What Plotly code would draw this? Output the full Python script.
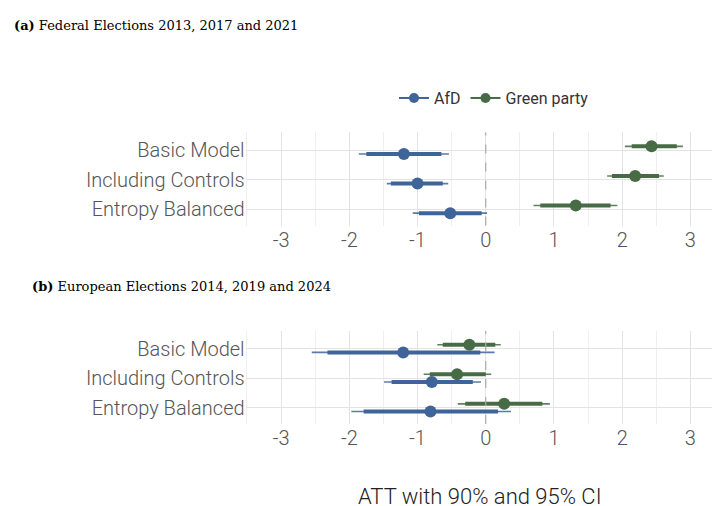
import plotly.graph_objects as go

models = ["Basic Model", "Including Controls", "Entropy Balanced"]
ypos = [3, 2, 1]

# panel (a) federal elections
fed_afd_est = [-1.20, -1.00, -0.52]
fed_afd_lo95 = [-1.86, -1.45, -1.07]
fed_afd_hi95 = [-0.54, -0.55, 0.02]
fed_afd_lo90 = [-1.75, -1.39, -0.98]
fed_afd_hi90 = [-0.65, -0.63, -0.06]
fed_grn_est = [2.43, 2.19, 1.32]
fed_grn_lo95 = [2.04, 1.78, 0.70]
fed_grn_hi95 = [2.89, 2.61, 1.93]
fed_grn_lo90 = [2.14, 1.85, 0.80]
fed_grn_hi90 = [2.80, 2.54, 1.83]

# panel (b) european elections
eu_afd_est = [-1.21, -0.79, -0.81]
eu_afd_lo95 = [-2.55, -1.49, -1.97]
eu_afd_hi95 = [0.13, -0.07, 0.37]
eu_afd_lo90 = [-2.32, -1.38, -1.79]
eu_afd_hi90 = [-0.08, -0.19, 0.18]
eu_grn_est = [-0.24, -0.42, 0.27]
eu_grn_lo95 = [-0.71, -0.91, -0.41]
eu_grn_hi95 = [0.22, 0.08, 0.94]
eu_grn_lo90 = [-0.63, -0.82, -0.30]
eu_grn_hi90 = [0.14, 0.00, 0.83]

AFD = "#3f6499"
GRN = "#476b45"
OFF = 0.13

fig = go.Figure()


def segs(lo, hi, ys):
    xs, yy = [], []
    for a, b, y in zip(lo, hi, ys):
        xs += [a, b, None]
        yy += [y, y, None]
    return xs, yy


def add_series(est, lo95, hi95, lo90, hi90, shift, color, ax):
    ys = [y + shift for y in ypos]
    x, y = segs(lo95, hi95, ys)
    fig.add_trace(go.Scatter(x=x, y=y, mode="lines", line=dict(color=color, width=1.6),
                             opacity=0.85, showlegend=False, xaxis="x" + ax, yaxis="y" + ax, hoverinfo="skip"))
    x, y = segs(lo90, hi90, ys)
    fig.add_trace(go.Scatter(x=x, y=y, mode="lines", line=dict(color=color, width=4),
                             showlegend=False, xaxis="x" + ax, yaxis="y" + ax, hoverinfo="skip"))
    fig.add_trace(go.Scatter(x=est, y=ys, mode="markers", marker=dict(color=color, size=12),
                             showlegend=False, xaxis="x" + ax, yaxis="y" + ax))


add_series(fed_afd_est, fed_afd_lo95, fed_afd_hi95, fed_afd_lo90, fed_afd_hi90, -OFF, AFD, "")
add_series(fed_grn_est, fed_grn_lo95, fed_grn_hi95, fed_grn_lo90, fed_grn_hi90, OFF, GRN, "")
add_series(eu_afd_est, eu_afd_lo95, eu_afd_hi95, eu_afd_lo90, eu_afd_hi90, -OFF, AFD, "2")
add_series(eu_grn_est, eu_grn_lo95, eu_grn_hi95, eu_grn_lo90, eu_grn_hi90, OFF, GRN, "2")

for name, color in [("AfD", AFD), ("Green party", GRN)]:
    fig.add_trace(go.Scatter(x=[None], y=[None], mode="lines+markers", name=name,
                             line=dict(color=color, width=2), marker=dict(color=color, size=10)))

tickfont = dict(size=20, color="#555555", family="Roboto", weight=300)
xcommon = dict(range=[-3.52, 3.34], tickvals=[-3, -2, -1, 0, 1, 2, 3],
               ticktext=["-3", "-2", "-1", "0", "1", "2", "3"],
               showgrid=True, gridcolor="#e3e3e3", gridwidth=1.3,
               minor=dict(dtick=0.5, showgrid=True, gridcolor="#efefef", gridwidth=0.8),
               zeroline=False, showline=False, ticks="", automargin=False,
               tickfont=tickfont, domain=[0.33, 0.98])
ycommon = dict(range=[0.45, 3.6], tickvals=ypos, ticktext=models, automargin=False,
               showgrid=True, gridcolor="#e3e3e3", gridwidth=1.3, zeroline=False,
               ticks="", ticklen=0, tickfont=tickfont)

fig.update_layout(
    width=720, height=506, margin=dict(l=0, r=0, t=0, b=0),
    plot_bgcolor="white", paper_bgcolor="white",
    font=dict(family="Roboto", color="#333333"),
    xaxis=dict(xcommon, anchor="y"),
    yaxis=dict(ycommon, domain=[0.57, 0.754], anchor="x"),
    xaxis2=dict(xcommon, anchor="y2"),
    yaxis2=dict(ycommon, domain=[0.178, 0.362], anchor="x2"),
    legend=dict(orientation="h", x=0.675, y=0.822, xanchor="center", yanchor="middle",
                font=dict(size=16, color="#333333"), itemwidth=30),
    showlegend=True,
)

for ya in ["y", "y2"]:
    fig.add_shape(type="line", xref="x" if ya == "y" else "x2", yref=ya + " domain",
                  x0=0, x1=0, y0=0, y1=1, line=dict(color="#aaaaaa", width=1.2, dash="dash"))

fig.add_annotation(text="<b>(a)</b> Federal Elections 2013, 2017 and 2021", xref="paper", yref="paper",
                   x=0.005, y=0.965, xanchor="left", yanchor="middle", showarrow=False,
                   font=dict(family="DejaVu Serif", size=13, color="black"))
fig.add_annotation(text="<b>(b)</b> European Elections 2014, 2019 and 2024", xref="paper", yref="paper",
                   x=0.03, y=0.45, xanchor="left", yanchor="middle", showarrow=False,
                   font=dict(family="DejaVu Serif", size=13, color="black"))
fig.add_annotation(text="ATT with 90% and 95% CI", xref="paper", yref="paper",
                   x=0.655, y=0.035, xanchor="center", yanchor="middle", showarrow=False,
                   font=dict(family="Roboto", size=22, color="#222222", weight=300))

fig.write_html("out.html")
